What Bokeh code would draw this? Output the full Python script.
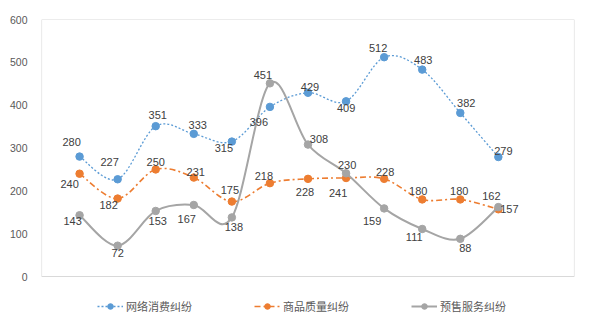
from bokeh.plotting import figure
from bokeh.models import (Range1d, FixedTicker, Legend, LegendItem, ColumnDataSource,
                          BoxAnnotation)
from bokeh.core.properties import value
from bokeh.embed import file_html
from bokeh.resources import INLINE

# ---- data ----
series_names = ["网络消费纠纷", "商品质量纠纷", "预售服务纠纷"]
periods = [1, 2, 3, 4, 5, 6, 7, 8, 9, 10, 11, 12]
online = [280, 227, 351, 333, 315, 396, 429, 409, 512, 483, 382, 279]
quality = [240, 182, 250, 231, 175, 218, 228, 230, 228, 180, 180, 157]
presale = [143, 72, 153, 167, 138, 451, 308, 241, 159, 111, 88, 162]
y_ticks = [0, 100, 200, 300, 400, 500, 600]

# ---- label placement (screen px) ----
online_off = [(-8, -15), (-8, -17), (2, -11), (4, -9), (-8, 6), (-11, 15),
              (2, -6), (0, 7), (-6, -9), (1, -10), (6, -10), (5, -6)]
quality_off = [(-10, 10), (-9, 6), (0, -7), (2, -6), (-2, -12), (-6, -7),
               (-3, 13), (1, -13), (1, -7), (-4, -8), (-1, -8), (11, 0)]
presale_off = [(-7, 6), (0, 7), (2, 10), (-7, 14), (2, 10), (-7, -8),
               (11, -6), (-8, 20), (-12, 13), (-8, 8), (5, 9), (-7, -11)]

# frame extends below the value axis to hold the legend (value 0 sits 42px above frame bottom)
p = figure(width=584, height=320, output_backend="svg", toolbar_location=None,
           x_range=Range1d(0, 14), y_range=Range1d(-98, 600),
           min_border_left=41, min_border_right=10, min_border_top=19,
           min_border_bottom=2)
p.background_fill_color = "white"
p.border_fill_color = "white"
p.outline_line_color = None
p.xgrid.visible = False
p.ygrid.visible = False
p.xaxis.visible = False

p.add_layout(BoxAnnotation(left=0, right=14, bottom=0, top=600,
                           fill_color=None, fill_alpha=0,
                           line_color="#d9d9d9", line_alpha=1.0, line_width=1.2))

p.yaxis.ticker = FixedTicker(ticks=y_ticks)
p.yaxis.axis_line_color = None
p.yaxis.major_tick_line_color = None
p.yaxis.minor_tick_line_color = None
p.yaxis.major_label_standoff = 8
p.yaxis.major_label_text_font = "Liberation Sans"
p.yaxis.major_label_text_font_size = "10.5px"
p.yaxis.major_label_text_color = "#595959"


def bezier_parts(xs, ys):
    n = len(xs)
    out = dict(x0=[], y0=[], x1=[], y1=[], cx0=[], cy0=[], cx1=[], cy1=[])
    for i in range(n - 1):
        xp, yp = (xs[i - 1], ys[i - 1]) if i > 0 else (xs[i], ys[i])
        xn, yn = (xs[i + 2], ys[i + 2]) if i + 2 < n else (xs[i + 1], ys[i + 1])
        out["x0"].append(xs[i]); out["y0"].append(ys[i])
        out["x1"].append(xs[i + 1]); out["y1"].append(ys[i + 1])
        out["cx0"].append(xs[i] + (xs[i + 1] - xp) / 6)
        out["cy0"].append(ys[i] + (ys[i + 1] - yp) / 6)
        out["cx1"].append(xs[i + 1] - (xn - xs[i]) / 6)
        out["cy1"].append(ys[i + 1] - (yn - ys[i]) / 6)
    return out


styles = [
    (online, "#5B9BD5", "2 2", 1.3, online_off),
    (quality, "#ED7D31", "6 3 2 3", 1.6, quality_off),
    (presale, "#A5A5A5", "solid", 2.0, presale_off),
]

items = []
for name, (vals, color, dash, lw, offs) in zip(series_names, styles):
    bz = p.bezier(source=ColumnDataSource(bezier_parts(periods, vals)),
                  x0="x0", y0="y0", x1="x1", y1="y1",
                  cx0="cx0", cy0="cy0", cx1="cx1", cy1="cy1",
                  line_color=color, line_width=lw, line_dash=value(dash))
    sc = p.scatter(periods, vals, size=7.5, fill_color=color, line_color=color)
    items.append(LegendItem(label=name, renderers=[bz, sc]))

for name, (vals, color, dash, lw, offs) in zip(series_names, styles):
    src = ColumnDataSource(dict(x=periods, y=vals, t=[str(v) for v in vals],
                                dx=[o[0] for o in offs], dy=[o[1] for o in offs]))
    p.text(x="x", y="y", text="t", source=src, x_offset="dx", y_offset="dy",
           text_align="center", text_baseline="middle",
           text_font=value("Liberation Sans"), text_font_size="11px",
           text_color="#404040")

legend = Legend(items=items, orientation="horizontal", location=(56, 4),
                padding=0, margin=0, spacing=62, label_standoff=3,
                glyph_width=26, glyph_height=14, label_height=14,
                border_line_color=None, background_fill_alpha=0,
                label_text_font="Noto Sans CJK SC", label_text_font_size="11px",
                label_text_color="#595959")
p.add_layout(legend)

open("out.html", "w").write(file_html(p, INLINE))
